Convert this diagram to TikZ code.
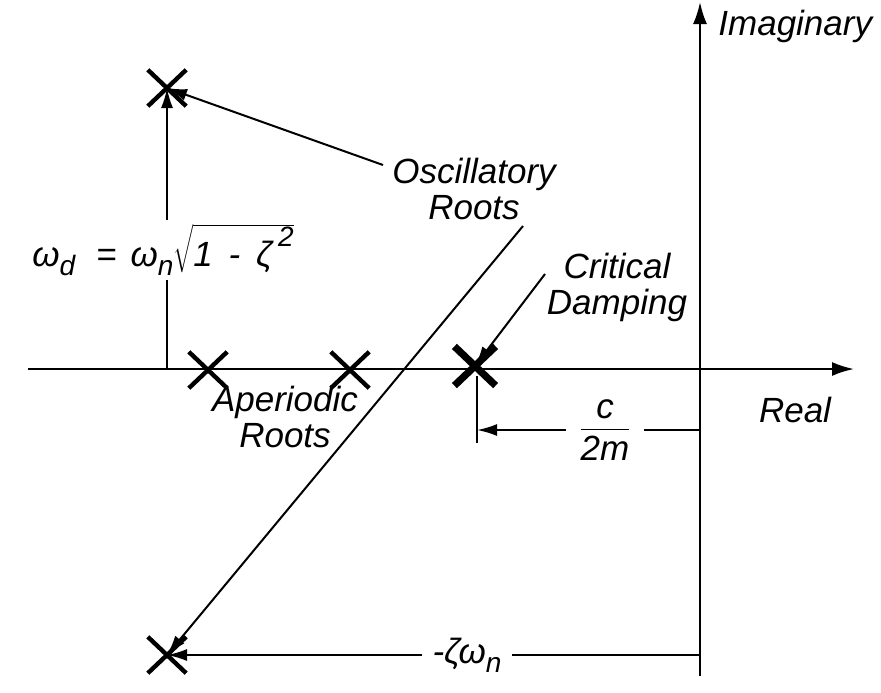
\documentclass[tikz,border=0pt]{standalone}
\usepackage{fontspec}
\setmainfont{Liberation Sans}
\usetikzlibrary{arrows.meta,shapes.misc}
\tikzset{lbl/.style = {font=\fontsize{17.5}{18}\selectfont\itshape, align=center, inner sep=1pt},
  root/.style = {cross out, draw, minimum width=17pt, minimum height=16pt, inner sep=0pt, line width=2.2pt},
  axis/.style = {line width=1.1pt, -{Latex[length=11pt,width=7pt]}},
  tip/.style = {line width=1pt, -{Latex[length=10pt,width=6pt]}}}
\newcommand\lowidx[1]{\raisebox{-0.5ex}{\fontsize{14}{14}\selectfont #1}}
\newcommand\highidx[1]{\raisebox{1.1ex}{\fontsize{14}{14}\selectfont #1}}

\begin{document}
\begin{tikzpicture}[x=0.5pt, y=-0.5pt]
      \useasboundingbox (0,0) rectangle (881,692);
      % axes
      \coordinate (re0) at (28,369);
      \coordinate (re1) at (854,369);
      \coordinate (im0) at (700,676);
      \coordinate (im1) at (700,2);
      \draw[axis] (re0) -- (re1);
      \draw[axis] (im0) -- (im1);
      \node[lbl, anchor=base west] (imlbl) at (716,35) {Imaginary};
      \node[lbl] (relbl) at (795,410) {Real};
      % roots
      \node[root] (osc1) at (167,88) {};
      \node[root] (osc2) at (167,655) {};
      \node[root] (ap1) at (208,370) {};
      \node[root] (ap2) at (350,370) {};
      \node[root, line width=3.6pt] (crit) at (475,366) {};
      % labels and pointers
      \node[lbl] (osclbl) at (474,189) {Oscillatory\\Roots};
      \node[lbl] (critlbl) at (617,287) {Critical\\Damping};
      \node[lbl] (aplbl) at (285,417) {Aperiodic\\Roots};
      \coordinate (oscstart) at (383,165);
      \coordinate (diagtop) at (523,226);
      \coordinate (critstart) at (545,274);
      \draw[tip] (oscstart) -- (osc1.center);
      \draw[tip] (diagtop) -- (osc2.center);
      \draw[tip] (critstart) -- (crit.center);
      % damped frequency
      \coordinate (wdfoot) at (167,369);
      \draw[tip] (wdfoot) -- (osc1.center);
      \node[lbl, fill=white, inner sep=2pt] (wd) at (163,250)
        {ω\lowidx{d}\hspace{0.6em}=\hspace{0.4em}ω\lowidx{n}$\sqrt{\mbox{1\hspace{0.45em}-\hspace{0.45em}ζ\,\highidx{2}}}$};
      % c/2m distance
      \coordinate (t1) at (477,376);
      \coordinate (t2) at (477,443);
      \draw[line width=1pt] (t1) -- (t2);
      \node[lbl, inner sep=6pt] (cfrac) at (605,430)
        {$\frac{\mbox{c}\rule[-5pt]{0pt}{5pt}}{\mbox{\rule{0pt}{15pt}2m}}$};
      \draw[tip] (cfrac) -- (cfrac -| t1);
      \draw[line width=1pt] (cfrac) -- (cfrac -| im0);
      % zeta omega_n distance
      \node[lbl, inner sep=5pt] (zeta) at (467,655) {-ζω\lowidx{n}};
      \draw[tip] (zeta) -- (osc2.center);
      \draw[line width=1pt] (zeta) -- (zeta -| im0);
\end{tikzpicture}
\end{document}
